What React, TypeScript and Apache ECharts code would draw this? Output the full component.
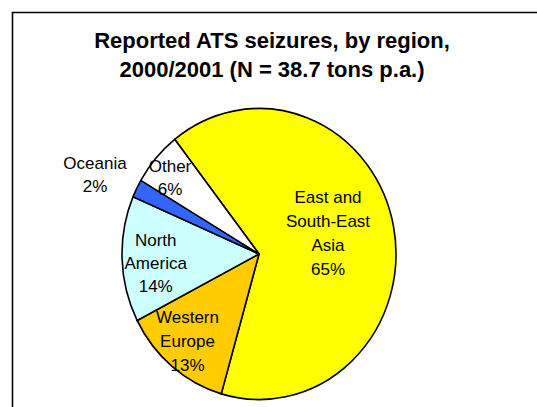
import React, { useEffect, useRef } from 'react';
import * as echarts from 'echarts';

// ---- data ----
const regions = ['East and South-East Asia', 'Western Europe', 'North America', 'Oceania', 'Other'];
const shares = [65, 13, 14, 2, 6];
const sliceColors = ['#FFFF00', '#FFCC00', '#CCFFFF', '#3366FF', '#FFFFFF'];
const labelLines = [['East and', 'South-East', 'Asia'], ['Western', 'Europe'], ['North', 'America'], ['Oceania'], ['Other']];
const titleLines = ['Reported ATS seizures, by region,', '2000/2001 (N = 38.7 tons p.a.)'];

// ---- layout ----
const W = 537;
const H = 407;
const CX = 259;
const CY = 254;
const R = 137;
const STRETCH = 145.5 / 137;
const labelPos = [[328, 233.5], [187.5, 341.7], [155.7, 263], [95, 175], [170, 178]];
const labelLH = [24, 24, 23, 22.5, 23.5];
const FONT = '"Liberation Sans", Arial, Helvetica, sans-serif';

export default function App() {
  const pieRef = useRef<HTMLDivElement>(null);
  const overRef = useRef<HTMLDivElement>(null);

  useEffect(() => {
    const pie = echarts.init(pieRef.current!, undefined, { renderer: 'svg' });
    pie.setOption({
      animation: false,
      series: [
        {
          type: 'pie',
          silent: true,
          center: [CX, CY],
          radius: R,
          startAngle: 128,
          clockwise: true,
          avoidLabelOverlap: false,
          label: { show: false },
          labelLine: { show: false },
          emphasis: { disabled: true },
          itemStyle: { borderColor: '#000', borderWidth: 1.6 },
          data: regions.map((n, i) => ({ name: n, value: shares[i], itemStyle: { color: sliceColors[i] } })),
        },
      ],
    });

    const over = echarts.init(overRef.current!, undefined, { renderer: 'svg' });
    const labels = regions.map((_, i) => ({
      type: 'text',
      x: labelPos[i][0],
      y: labelPos[i][1],
      silent: true,
      style: {
        text: [...labelLines[i], shares[i] + '%'].join('\n'),
        fontSize: 17,
        fontFamily: FONT,
        fill: '#000',
        align: 'center',
        verticalAlign: 'middle',
        lineHeight: labelLH[i],
      },
    }));
    over.setOption({
      animation: false,
      graphic: [
        {
          type: 'rect',
          silent: true,
          shape: { x: 12.5, y: 12.5, width: 700, height: 600 },
          style: { fill: 'none', stroke: '#000', lineWidth: 1.6 },
        },
        {
          type: 'text',
          x: 272,
          y: 55,
          silent: true,
          style: {
            text: titleLines.join('\n'),
            fontSize: 22,
            fontWeight: 'bold',
            fontFamily: FONT,
            fill: '#000',
            align: 'center',
            verticalAlign: 'middle',
            lineHeight: 29,
          },
        },
        ...labels,
      ],
    });

    return () => {
      pie.dispose();
      over.dispose();
    };
  }, []);

  return (
    <div style={{ position: 'fixed', left: 0, top: 0, width: W, height: H, background: '#fff', overflow: 'hidden' }}>
      <div
        ref={pieRef}
        style={{
          position: 'absolute',
          left: 0,
          top: 0,
          width: W,
          height: H,
          transform: `scaleY(${STRETCH})`,
          transformOrigin: `${CX}px ${CY}px`,
        }}
      />
      <div ref={overRef} style={{ position: 'absolute', left: 0, top: 0, width: W, height: H, pointerEvents: 'none' }} />
    </div>
  );
}
